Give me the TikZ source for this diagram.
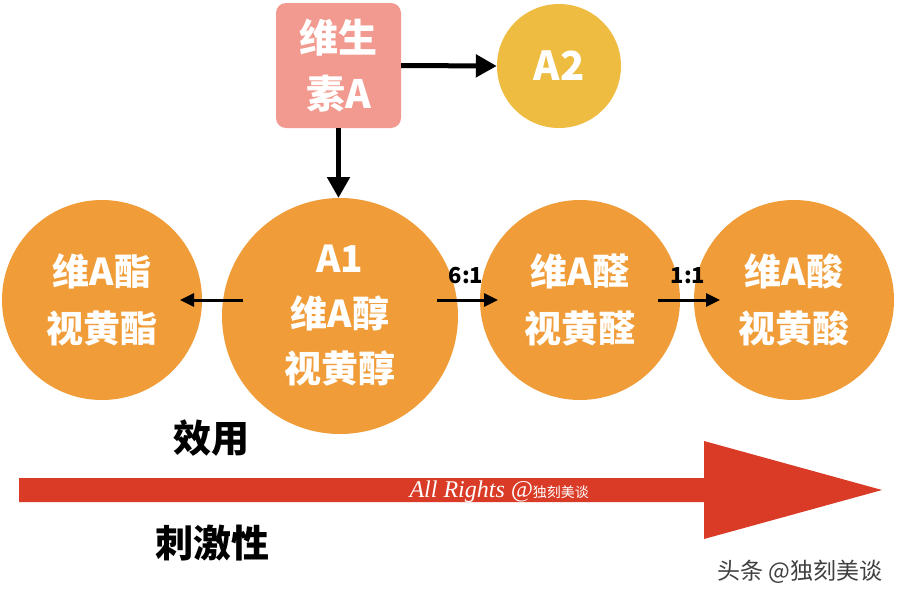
\documentclass[tikz,border=0pt]{standalone}
\usepackage{fontspec}
\setmainfont{Noto Sans CJK SC}
\newfontfamily\wmfont{Liberation Serif}
\usetikzlibrary{arrows.meta,calc}

\definecolor{vitpink}{HTML}{F29A8F}
\definecolor{vitgold}{HTML}{EEBC40}
\definecolor{vitorange}{HTML}{F09C38}
\definecolor{vitred}{HTML}{DA3B27}

\tikzset{
  ball/.style={circle, fill=vitorange, text=white, align=center, inner sep=0pt, outer sep=0pt,
    font=\bfseries\fontsize{37}{57}\selectfont},
  thin arrow/.style={line width=3pt, -{Triangle[length=14pt,width=13pt]}},
  thick arrow/.style={line width=5pt, -{Triangle[length=21pt,width=22pt]}},
  ratio/.style={font=\bfseries\fontsize{22}{22}\selectfont},
  caption/.style={font=\bfseries\fontsize{38}{38}\selectfont}
}

\begin{document}
\begin{tikzpicture}[x=1pt,y=-1pt]
\useasboundingbox (0,0) rectangle (900,600);

% top row
\node[fill=vitpink, rounded corners=10pt, minimum width=125pt, minimum height=125pt, inner sep=0pt,
  text=white, align=center, font=\bfseries\fontsize{39}{56}\selectfont] (vita) at (338.5,65.5) {维生\\素A};
\node[circle, fill=vitgold, minimum size=124pt, inner sep=0pt, text=white,
  font=\bfseries\fontsize{40}{40}\selectfont] (a2) at (559,66) {A2};

% middle row
\node[ball, minimum size=236pt, font=\bfseries\fontsize{37}{55}\selectfont] (a1) at (340,316) {A1\\维A醇\\视黄醇};
\foreach \nm/\x/\txt in {ester/102/{维A酯\\视黄酯}, ald/580/{维A醛\\视黄醛}, acid/794/{维A酸\\视黄酸}} {
    \node[ball, minimum size=200pt] (\nm) at (\x,300) {\txt};
}

\draw[thick arrow] (vita.east) -- (a2.west);
\draw[thick arrow] (vita.south) -- (vita.south |- a1.north);
\draw[thin arrow] ($(a1.west |- ester.east)+(21,0)$) -- ($(ester.east)+(-22,0)$);
\draw[thin arrow] ($(a1.east |- ald.west)+(-21,0)$) -- ($(ald.west)+(18,0)$);
\draw[thin arrow] ($(ald.east)+(-22,0)$) -- ($(acid.west)+(26,0)$);
\node[ratio] (r61) at (466,276) {6:1};
\node[ratio] (r11) at (688,276) {1:1};

% scale arrow
\fill[vitred] (19,478) -- (704,478) -- (704,441) -- (882,490) -- (704,539) -- (704,502) -- (19,502) -- cycle;
\node[caption] (effect) at (211,438) {效用};
\node[caption] (irritation) at (212,543) {刺激性};

% marks
\node[anchor=base west, text=white, font=\wmfont\itshape\fontsize{24}{24}\selectfont] (rights) at (406,497)
  {All Rights @{\normalfont\fontsize{14}{14}\selectfont 独刻美谈}};
\node[text=black!75, font=\fontsize{23}{23}\selectfont] (source) at (800,572) {头条 @独刻美谈};
\end{tikzpicture}
\end{document}
